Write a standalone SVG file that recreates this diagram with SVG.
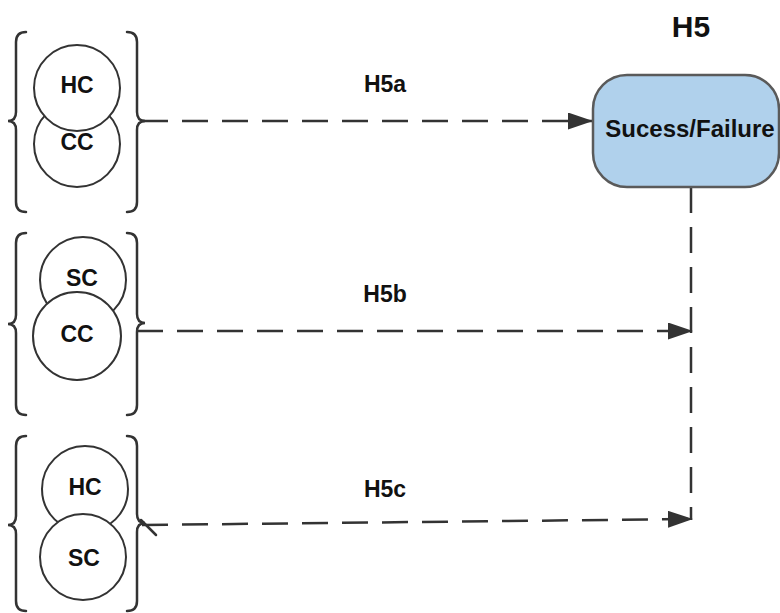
<svg xmlns="http://www.w3.org/2000/svg" width="780" height="613" viewBox="0 0 780 613">
<style>
.br{fill:none;stroke:#333;stroke-width:2.5;stroke-linecap:round}
.ci{fill:#fff;stroke:#333;stroke-width:2}
.t{font-family:"Liberation Sans",Arial,sans-serif;font-weight:bold;fill:#111;text-anchor:middle}
.c{fill:none;stroke:#333;stroke-width:2.5;stroke-dasharray:26 14}
</style>
<defs>
<marker id="ah" markerWidth="25" markerHeight="17" refX="25" refY="8.5" orient="auto" markerUnits="userSpaceOnUse">
<path d="M0,0 L25,8.5 L0,17 z" fill="#333"/>
</marker>
</defs>
<rect width="780" height="613" fill="#fff"/>
<g id="connectors">
<path class="c" d="M142,121 L593,121" marker-end="url(#ah)"/>
<path class="c" d="M137,331 L693,331" marker-end="url(#ah)"/>
<path class="c" d="M142,525 L693,519" marker-end="url(#ah)"/>
<path class="c" d="M691,187 L691,520"/>
<path class="br" d="M141,520 L156,535"/>
</g>
<g id="group-h5a">
<path class="br" d="M26,32 Q16,32 16,42 L16,112 Q16,121 8,121 Q16,121 16,130 L16,202 Q16,212 26,212"/>
<path class="br" d="M127,32 Q137,32 137,42 L137,112 Q137,121 145,121 Q137,121 137,130 L137,202 Q137,212 127,212"/>
<circle class="ci" cx="77" cy="144" r="43"/>
<circle class="ci" cx="77" cy="88" r="43"/>
<text class="t" x="77" y="93" font-size="23">HC</text>
<text class="t" x="77" y="150" font-size="23">CC</text>
</g>
<g id="group-h5b">
<path class="br" d="M26,233 Q16,233 16,243 L16,315 Q16,324 8,324 Q16,324 16,333 L16,405 Q16,415 26,415"/>
<path class="br" d="M127,233 Q137,233 137,243 L137,314 Q137,323 145,323 Q137,323 137,332 L137,405 Q137,415 127,415"/>
<circle class="ci" cx="83" cy="280" r="43"/>
<circle class="ci" cx="77" cy="336" r="44"/>
<text class="t" x="82" y="286" font-size="23">SC</text>
<text class="t" x="77" y="342" font-size="23">CC</text>
</g>
<g id="group-h5c">
<path class="br" d="M26,436 Q16,436 16,446 L16,516 Q16,525 8,525 Q16,525 16,534 L16,601 Q16,611 26,611"/>
<path class="br" d="M127,436 Q137,436 137,446 L137,514 Q137,523 145,523 Q137,523 137,532 L137,601 Q137,611 127,611"/>
<circle class="ci" cx="85" cy="489" r="43"/>
<circle class="ci" cx="83" cy="557" r="43"/>
<text class="t" x="85" y="495" font-size="23">HC</text>
<text class="t" x="84" y="566" font-size="23">SC</text>
</g>
<g id="node-outcome">
<rect x="593" y="75" width="186" height="112" rx="34" ry="34" fill="#b0d1ec" stroke="#5a5a5a" stroke-width="2.5"/>
<text class="t" x="690" y="137" font-size="24">Sucess/Failure</text>
</g>
<g id="labels">
<text class="t" x="691" y="37" font-size="30">H5</text>
<text class="t" x="385" y="92" font-size="23">H5a</text>
<text class="t" x="385" y="302" font-size="23">H5b</text>
<text class="t" x="385" y="497" font-size="23">H5c</text>
</g>
</svg>
